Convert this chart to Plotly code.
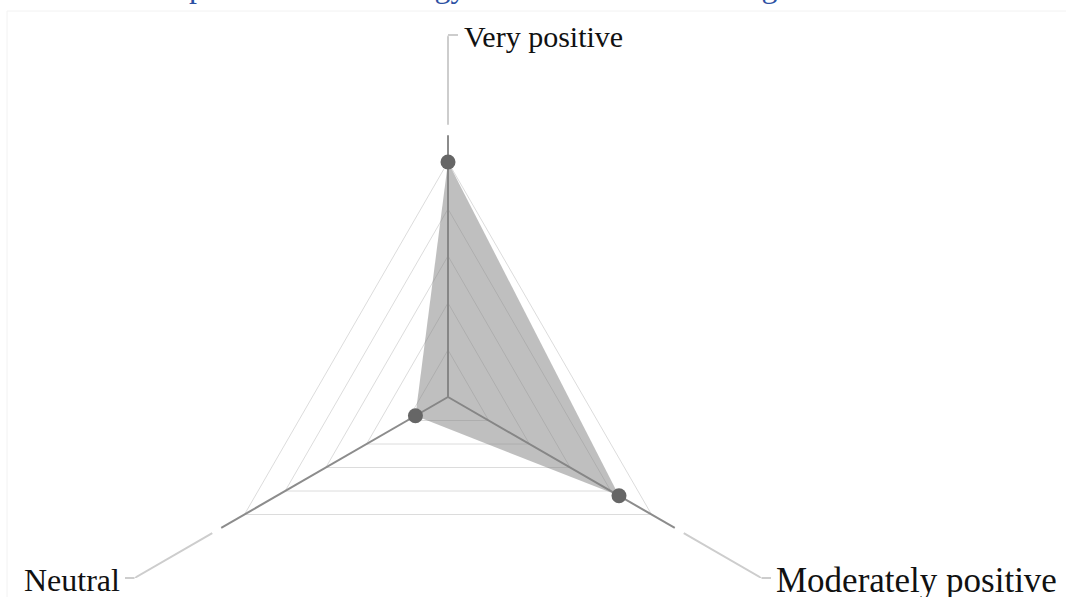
import plotly.graph_objects as go

# ---- data ----
categories = ["Very positive", "Moderately positive", "Neutral"]
values = [50, 42, 8]
ring_ticks = [10, 20, 30, 40, 50]
title_text = "Student responses on technology as a new aid in learning"

# axis decoration extents (radial units)
SPOKE_END = 55.7
LEADER_START = 57.9
RADIAL_MAX = 77.0

W, H = 1066, 800
CX, CY, R_PX = 448, 397, 362  # centre and outer radius of polar area (px)

def px(x):
    return x / W

def py(y):
    return 1 - y / H

fig = go.Figure()

# dark spokes
for c in categories:
    fig.add_trace(go.Scatterpolar(r=[0, SPOKE_END], theta=[c, c], mode="lines",
                                  line=dict(color="#8c8c8c", width=2),
                                  hoverinfo="skip", showlegend=False))
# light leader lines
for c in categories:
    fig.add_trace(go.Scatterpolar(r=[LEADER_START, RADIAL_MAX], theta=[c, c], mode="lines",
                                  line=dict(color="#cdcdcd", width=2),
                                  hoverinfo="skip", showlegend=False))

# filled area
fig.add_trace(go.Scatterpolar(r=values + values[:1], theta=categories + categories[:1],
                              mode="lines", fill="toself",
                              fillcolor="rgba(128,128,128,0.5)",
                              line=dict(width=0, color="rgba(0,0,0,0)"),
                              hoverinfo="skip", showlegend=False))
# markers
fig.add_trace(go.Scatterpolar(r=values, theta=categories, mode="markers",
                              marker=dict(size=15, color="#666666"),
                              showlegend=False))

fig.update_layout(
    width=W, height=H,
    margin=dict(l=0, r=0, t=0, b=0),
    paper_bgcolor="white",
    showlegend=False,
    polar=dict(
        domain=dict(x=[px(CX - R_PX), px(CX + R_PX)], y=[py(CY + R_PX), py(CY - R_PX)]),
        gridshape="linear",
        bgcolor="rgba(0,0,0,0)",
        radialaxis=dict(range=[0, RADIAL_MAX], tickvals=ring_ticks, showticklabels=False,
                        ticks="", showline=False, gridcolor="#dcdcdc", gridwidth=1),
        angularaxis=dict(categoryorder="array", categoryarray=categories,
                         rotation=90, direction="clockwise", showgrid=False,
                         showline=False, showticklabels=False, ticks=""),
    ),
)

label_font = "Liberation Serif, Times New Roman, serif"
# category labels with elbows
labels = [
    dict(text="Very positive", x=462, y=36, anchor="left", size=30, ex0=448, ex1=458, ey=35),
    dict(text="Moderately positive", x=774, y=580, anchor="left", size=35, ex0=761.5, ex1=771, ey=578),
    dict(text="Neutral", x=122, y=580, anchor="right", size=32, ex0=134.5, ex1=125, ey=578),
]
for lb in labels:
    fig.add_annotation(text=lb["text"], xref="paper", yref="paper", x=px(lb["x"]), y=py(lb["y"]),
                       xanchor=lb["anchor"], yanchor="middle", showarrow=False,
                       font=dict(family=label_font, size=lb["size"], color="#111111"))
    fig.add_shape(type="line", xref="paper", yref="paper",
                  x0=px(lb["ex0"]), x1=px(lb["ex1"]), y0=py(lb["ey"]), y1=py(lb["ey"]),
                  line=dict(color="#cdcdcd", width=2))

# faint card border
fig.add_shape(type="rect", xref="paper", yref="paper", x0=px(7), x1=px(1080), y0=py(11), y1=py(900),
              line=dict(color="#f2f2f2", width=1))

# title (mostly cut off above)
fig.add_annotation(text=title_text, xref="paper", yref="paper", x=px(44), y=py(6),
                   xanchor="left", yanchor="bottom", showarrow=False,
                   font=dict(family=label_font, size=32, color="#2c51a3"))

fig.write_html("out.html", config={"displayModeBar": False},
               post_script="document.body.style.margin='0';document.body.style.overflow='hidden';")
